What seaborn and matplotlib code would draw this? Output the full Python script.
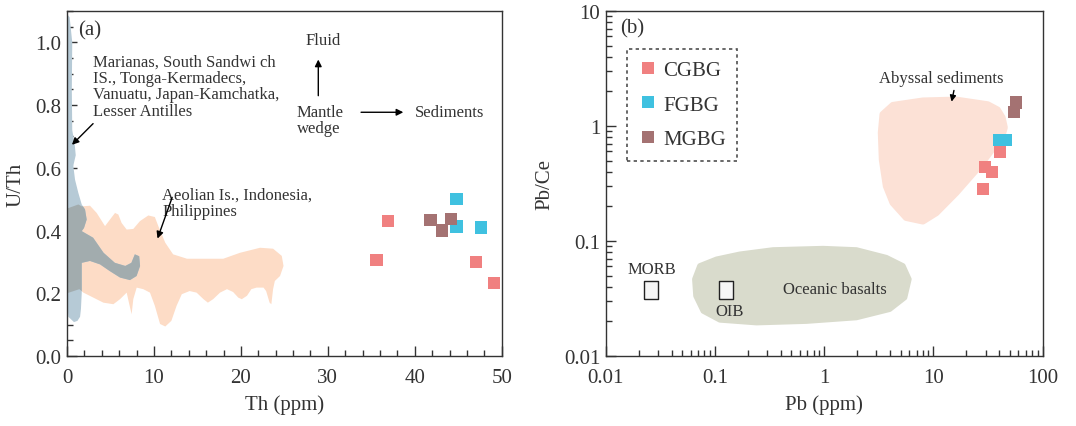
import numpy as np
import pandas as pd
import matplotlib
matplotlib.use("Agg")
import matplotlib.pyplot as plt
import seaborn as sns
from matplotlib.patches import Polygon
from matplotlib.ticker import MultipleLocator, FuncFormatter, LogLocator, NullFormatter

# ---- data ----
groups = ["CGBG", "FGBG", "MGBG"]
colors = {"CGBG": "#F08080", "FGBG": "#3FC1E0", "MGBG": "#A47272"}

# (a) Th vs U/Th
th_a = [35.6, 36.9, 47.0, 49.1, 44.8, 44.8, 47.6, 41.8, 43.1, 44.2]
uth_a = [0.305, 0.43, 0.30, 0.233, 0.50, 0.413, 0.41, 0.433, 0.40, 0.437]
grp_a = ["CGBG"] * 4 + ["FGBG"] * 3 + ["MGBG"] * 3

# (b) Pb vs Pb/Ce
pb_b = [28.3, 29.7, 34.4, 40.7, 40.2, 46.2, 57.0, 55.0]
pbce_b = [0.281, 0.44, 0.40, 0.60, 0.755, 0.755, 1.60, 1.33]
grp_b = ["CGBG"] * 4 + ["FGBG"] * 2 + ["MGBG"] * 2

# field outlines (data units)
arc_x = [0, 0.3, 0.6, 0.55, 0.6, 0.9, 1.0, 0.75, 0.73, 0.92, 1.3, 1.69, 2.07, 2.26, 1.95, 1.69,
         3.0, 4.2, 5.5, 6.7, 7.4, 7.8, 8.3, 8.4, 8.0, 7.24, 6.1, 4.9, 3.8, 2.64, 1.69,
         1.69, 1.6, 1.5, 1.2, 0.8, 0.15, 0]
arc_y = [1.09, 1.08, 1.0, 0.85, 0.72, 0.67, 0.64, 0.61, 0.604, 0.562, 0.52, 0.483, 0.467, 0.435, 0.408, 0.398,
         0.377, 0.329, 0.297, 0.287, 0.297, 0.324, 0.318, 0.287, 0.255, 0.242, 0.25, 0.271, 0.292, 0.303, 0.297,
         0.2, 0.15, 0.125, 0.112, 0.108, 0.125, 0.18]

aeo_x = [1.3, 1.69, 2.64, 3.41, 4.37, 4.94, 5.52, 5.9, 6.28, 6.86, 7.62, 8.39, 9.35, 10.1, 10.5, 11.3,
         12.2, 13.8, 17.97, 19.9, 22.2, 23.7, 24.7, 24.9, 24.5, 23.9, 23.7, 23.5, 23.3, 22.9, 22.6,
         21.8, 21.2, 20.7, 20.1, 19.7, 19.1, 18.4, 17.6, 16.8, 16.2, 15.7, 14.9, 14.1, 13.2, 12.6,
         12.0, 11.3, 10.7, 10.1, 9.54, 8.77, 8.01, 7.62, 7.43, 7.16, 6.86, 6.09, 5.33, 4.18, 3.03,
         1.88, 1.42, 0.0, 0.0]
aeo_y = [0.483, 0.477, 0.479, 0.456, 0.414, 0.435, 0.456, 0.451, 0.424, 0.403, 0.405, 0.430, 0.448, 0.443,
         0.414, 0.361, 0.324, 0.310, 0.310, 0.329, 0.345, 0.342, 0.319, 0.287, 0.255, 0.239, 0.213, 0.165,
         0.170, 0.207, 0.218, 0.218, 0.213, 0.192, 0.181, 0.186, 0.204, 0.213, 0.202, 0.181, 0.170, 0.181,
         0.202, 0.207, 0.197, 0.160, 0.112, 0.094, 0.102, 0.160, 0.202, 0.213, 0.218, 0.181, 0.133, 0.165,
         0.202, 0.181, 0.165, 0.170, 0.186, 0.202, 0.213, 0.20, 0.47]

aby_x = [3.33, 3.45, 4.26, 8.0, 16.1, 31.4, 38.5, 42.6, 44.6, 43.0, 40.2, 26.4, 16.1, 10.6, 8.0, 5.64,
         4.26, 3.70, 3.40]
aby_y = [0.875, 1.26, 1.51, 1.65, 1.68, 1.53, 1.38, 1.18, 0.97, 0.86, 0.766, 0.449, 0.263, 0.176, 0.149,
         0.160, 0.215, 0.30, 0.51]

ocb_x = [0.0654, 0.0728, 0.1033, 0.169, 0.340, 0.976, 1.97, 3.70, 5.25, 5.96, 5.44, 3.97, 1.97, 0.687,
         0.240, 0.111, 0.0782, 0.0670]
ocb_y = [0.0465, 0.0607, 0.0693, 0.0766, 0.0835, 0.0858, 0.0835, 0.0716, 0.0607, 0.0465, 0.0322, 0.0255,
         0.0216, 0.0201, 0.0195, 0.0206, 0.0246, 0.0333]

ref_names = ["MORB", "OIB"]
ref_pb = [0.026, 0.126]
ref_pbce = [0.0372, 0.0372]

df_a = pd.DataFrame({"Th": th_a, "U/Th": uth_a, "group": grp_a})
df_b = pd.DataFrame({"Pb": pb_b, "Pb/Ce": pbce_b, "group": grp_b})

# ---- style ----
sns.set_style("ticks")
plt.rcParams['font.family'] = ['Liberation Serif', 'DejaVu Serif']
plt.rcParams['axes.linewidth'] = 1.0
plt.rcParams['axes.edgecolor'] = '#333333'
plt.rcParams['xtick.direction'] = 'in'
plt.rcParams['ytick.direction'] = 'in'
txt_c = '#333333'

fig = plt.figure(figsize=(10.76, 4.27), dpi=100)
ax_a = fig.add_axes([0.0623, 0.164, 0.404, 0.808])
ax_b = fig.add_axes([0.563, 0.164, 0.406, 0.808])

# ---- panel (a) ----
aeo = Polygon(np.column_stack([aeo_x, aeo_y]), closed=True, fc='#FDDCC6', ec='none', zorder=1)
ax_a.add_patch(aeo)
arc = Polygon(np.column_stack([arc_x, arc_y]), closed=True, fc='#B6CAD6', ec='none', zorder=1.1)
ax_a.add_patch(arc)
ovl = Polygon(np.column_stack([arc_x, arc_y]), closed=True, fc='#A2ACAE', ec='none', zorder=1.2)
ax_a.add_patch(ovl)
ovl.set_clip_path(aeo)

sns.scatterplot(data=df_a, x="Th", y="U/Th", hue="group", hue_order=groups, palette=colors,
                marker='s', s=78, linewidth=0, legend=False, ax=ax_a, zorder=3)

ax_a.set_xlim(0, 50)
ax_a.set_ylim(0, 1.1)
ax_a.xaxis.set_major_locator(MultipleLocator(10))
ax_a.xaxis.set_minor_locator(MultipleLocator(2))
ax_a.yaxis.set_major_locator(MultipleLocator(0.2))
ax_a.yaxis.set_minor_locator(MultipleLocator(0.05))
ax_a.yaxis.set_major_formatter(FuncFormatter(lambda v, p: f"{v:.1f}"))
ax_a.set_xlabel("Th (ppm)", fontsize=15, color=txt_c, labelpad=5)
ax_a.set_ylabel("U/Th", fontsize=15, color=txt_c, labelpad=7)

ax_a.text(1.3, 1.04, "(a)", fontsize=15, va='center', ha='left', color=txt_c)
ax_a.text(3.0, 0.965, "Marianas, South Sandwi ch\nIS., Tonga-Kermadecs,\nVanuatu, Japan-Kamchatka,\nLesser Antilles",
          fontsize=12, va='top', ha='left', linespacing=1.05, color=txt_c)
ax_a.annotate("", xy=(0.34, 0.667), xytext=(3.22, 0.747),
              arrowprops=dict(arrowstyle='-|>', color='k', lw=1, mutation_scale=10))
ax_a.text(29.4, 1.006, "Fluid", fontsize=12, ha='center', va='center', color=txt_c)
ax_a.annotate("", xy=(28.9, 0.954), xytext=(28.9, 0.821),
              arrowprops=dict(arrowstyle='-|>', color='k', lw=1, mutation_scale=10))
ax_a.text(26.4, 0.752, "Mantle\nwedge", fontsize=12, ha='left', va='center', linespacing=1.05, color=txt_c)
ax_a.annotate("", xy=(39.0, 0.777), xytext=(33.5, 0.777),
              arrowprops=dict(arrowstyle='-|>', color='k', lw=1, mutation_scale=10))
ax_a.text(40.0, 0.777, "Sediments", fontsize=12, ha='left', va='center', color=txt_c)
ax_a.text(10.96, 0.54, "Aeolian Is., Indonesia,\nPhilippines", fontsize=12, ha='left', va='top',
          linespacing=1.05, color=txt_c)
ax_a.annotate("", xy=(10.3, 0.366), xytext=(12.2, 0.514),
              arrowprops=dict(arrowstyle='-|>', color='k', lw=1, mutation_scale=10))

# ---- panel (b) ----
ax_b.set_xscale('log')
ax_b.set_yscale('log')
ax_b.add_patch(Polygon(np.column_stack([aby_x, aby_y]), closed=True, fc='#FCE1D6', ec='#FCE1D6',
                       lw=5, joinstyle='round', zorder=1))
ax_b.add_patch(Polygon(np.column_stack([ocb_x, ocb_y]), closed=True, fc='#D9DBCC', ec='#D9DBCC',
                       lw=4, joinstyle='round', zorder=1))

sns.scatterplot(data=df_b, x="Pb", y="Pb/Ce", hue="group", hue_order=groups, palette=colors,
                marker='s', s=78, linewidth=0, legend=True, ax=ax_b, zorder=3)

box = [(-0.75, -1), (0.75, -1), (0.75, 1), (-0.75, 1), (-0.75, -1)]
ax_b.plot(ref_pb, ref_pbce, ls='none', marker=box, ms=13.5, mfc='#F6F6F6', mec='#222222', mew=1.0, zorder=4)

ax_b.set_xlim(0.01, 100)
ax_b.set_ylim(0.01, 10)
fmt = FuncFormatter(lambda v, p: f"{v:g}")
ax_b.xaxis.set_major_formatter(fmt)
ax_b.yaxis.set_major_formatter(fmt)
ax_b.xaxis.set_minor_locator(LogLocator(base=10, subs=np.arange(2, 10)))
ax_b.yaxis.set_minor_locator(LogLocator(base=10, subs=np.arange(2, 10)))
ax_b.xaxis.set_minor_formatter(NullFormatter())
ax_b.yaxis.set_minor_formatter(NullFormatter())
ax_b.set_xlabel("Pb (ppm)", fontsize=15, color=txt_c, labelpad=5)
ax_b.set_ylabel("Pb/Ce", fontsize=15, color=txt_c, labelpad=7)

ax_b.text(0.0135, 7.2, "(b)", fontsize=15, ha='left', va='center', color=txt_c)
ax_b.text(ref_pb[0] * 1.01, 0.0568, ref_names[0], fontsize=12, ha='center', va='center', color=txt_c)
ax_b.text(ref_pb[1] * 1.07, 0.0246, ref_names[1], fontsize=12, ha='center', va='center', color=txt_c)
ax_b.text(1.25, 0.0386, "Oceanic basalts", fontsize=12, ha='center', va='center', color=txt_c)
ax_b.text(11.8, 2.63, "Abyssal sediments", fontsize=12, ha='center', va='center', color=txt_c)
ax_b.annotate("", xy=(14.5, 1.54), xytext=(15.6, 2.15),
              arrowprops=dict(arrowstyle='-|>', color='k', lw=1, mutation_scale=9))

sns.move_legend(ax_b, loc='upper left', bbox_to_anchor=(0.048, 0.89), title=None, frameon=True,
                fancybox=False, fontsize=15, handletextpad=0.3, labelspacing=0.72, borderpad=0.55,
                handlelength=0.9, borderaxespad=0)
leg = ax_b.get_legend()
leg.get_frame().set_linestyle((0, (2, 2)))
leg.get_frame().set_edgecolor('#222222')
leg.get_frame().set_linewidth(1.2)
for t in leg.get_texts():
    t.set_color(txt_c)

for ax in (ax_a, ax_b):
    ax.tick_params(which='major', length=7, width=1, labelsize=15, colors='#333333', top=False, right=False)
    ax.tick_params(which='minor', length=4.5, width=1, top=False, right=False, color='#333333')
    ax.tick_params(axis='x', which='both', pad=9)
    ax.tick_params(axis='y', which='both', pad=4)

fig.savefig("out.png", dpi=100)
